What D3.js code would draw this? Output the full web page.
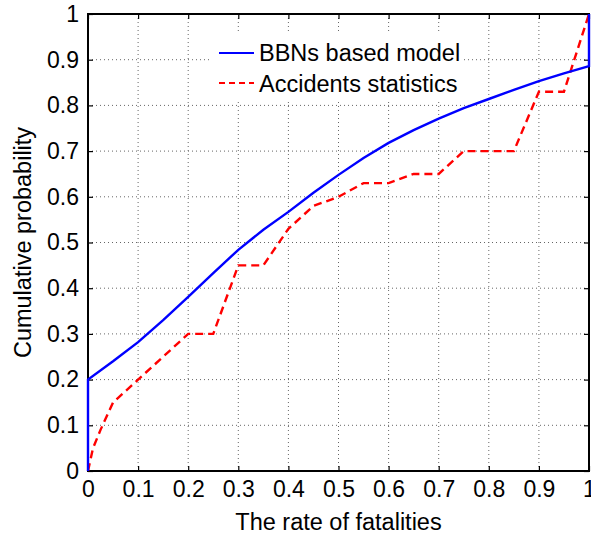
<!DOCTYPE html>
<html>
<head>
<meta charset="utf-8">
<script src="https://cdn.jsdelivr.net/npm/d3@7"></script>
<style>
  body { margin: 0; background: #fff; }
  text { font-family: "Liberation Sans", Arial, sans-serif; fill: #000; }
</style>
</head>
<body>
<script>
// ticks
var xTicks = [0, 0.1, 0.2, 0.3, 0.4, 0.5, 0.6, 0.7, 0.8, 0.9, 1];
var yTicks = [0, 0.1, 0.2, 0.3, 0.4, 0.5, 0.6, 0.7, 0.8, 0.9, 1];
var tickLabels = ["0", "0.1", "0.2", "0.3", "0.4", "0.5", "0.6", "0.7", "0.8", "0.9", "1"];

// BBNs based model (blue, solid)
var bbnX = [0, 0, 0.05, 0.1, 0.15, 0.2, 0.25, 0.3, 0.35, 0.4, 0.45, 0.5, 0.55, 0.6, 0.65, 0.7, 0.75, 0.8, 0.85, 0.9, 0.95, 1, 1];
var bbnY = [0, 0.2, 0.24, 0.282, 0.33, 0.381, 0.433, 0.484, 0.528, 0.567, 0.609, 0.648, 0.685, 0.718, 0.746, 0.771, 0.794, 0.814, 0.834, 0.853, 0.87, 0.886, 1];

// Accidents statistics (red, dashed)
var accX = [0, 0.01, 0.025, 0.05, 0.1, 0.2, 0.25, 0.3, 0.35, 0.4, 0.45, 0.5, 0.55, 0.6, 0.65, 0.7, 0.75, 0.85, 0.9, 0.95, 1];
var accY = [0, 0.05, 0.09, 0.15, 0.2, 0.3, 0.3, 0.45, 0.45, 0.53, 0.58, 0.6, 0.63, 0.63, 0.65, 0.65, 0.7, 0.7, 0.83, 0.83, 1];

var W = 591, H = 536;
var mLeft = 88, mRight = 589, mTop = 14, mBottom = 471;

var svg = d3.select("body").append("svg")
    .attr("width", W)
    .attr("height", H);

var x = d3.scaleLinear().domain([0, 1]).range([mLeft, mRight]);
var y = d3.scaleLinear().domain([0, 1]).range([mBottom, mTop]);

// grid
var grid = svg.append("g");
grid.selectAll(".gx").data(xTicks.slice(1, -1)).enter().append("line")
    .attr("x1", function(d) { return x(d); }).attr("x2", function(d) { return x(d); })
    .attr("y1", mTop).attr("y2", mBottom)
    .attr("stroke", "#666").attr("stroke-width", 1).attr("stroke-dasharray", "1,3");
grid.selectAll(".gy").data(yTicks.slice(1, -1)).enter().append("line")
    .attr("y1", function(d) { return y(d); }).attr("y2", function(d) { return y(d); })
    .attr("x1", mLeft).attr("x2", mRight)
    .attr("stroke", "#666").attr("stroke-width", 1).attr("stroke-dasharray", "1,3");

// axes with inward ticks
var fmt = function(d, i) { return tickLabels[i]; };
var xAxis = svg.append("g").attr("transform", "translate(0," + mBottom + ")")
    .call(d3.axisBottom(x).tickValues(xTicks).tickFormat(fmt).tickSizeInner(-5).tickSizeOuter(0).tickPadding(10));
var yAxis = svg.append("g").attr("transform", "translate(" + mLeft + ",0)")
    .call(d3.axisLeft(y).tickValues(yTicks).tickFormat(fmt).tickSizeInner(-5).tickSizeOuter(0).tickPadding(9));
svg.append("g").attr("transform", "translate(0," + mTop + ")")
    .call(d3.axisTop(x).tickValues(xTicks).tickFormat("").tickSizeInner(-5).tickSizeOuter(0));
svg.append("g").attr("transform", "translate(" + mRight + ",0)")
    .call(d3.axisRight(y).tickValues(yTicks).tickFormat("").tickSizeInner(-5).tickSizeOuter(0));

svg.selectAll(".domain").remove();
svg.selectAll(".tick line").attr("stroke", "#000").attr("stroke-width", 1.2);
xAxis.selectAll("text").style("font-size", "23px").attr("dy", "0.71em").attr("font-family", null);
yAxis.selectAll("text").style("font-size", "23px").attr("font-family", null);

// legend background
svg.append("rect")
    .attr("x", 212).attr("y", 34).attr("width", 251).attr("height", 66)
    .attr("fill", "#fff");

// box
svg.append("rect")
    .attr("x", mLeft).attr("y", mTop)
    .attr("width", mRight - mLeft).attr("height", mBottom - mTop)
    .attr("fill", "none").attr("stroke", "#000").attr("stroke-width", 2);

// lines
var line = d3.line()
    .x(function(d) { return x(d[0]); })
    .y(function(d) { return y(d[1]); });

svg.append("path")
    .datum(d3.zip(accX, accY))
    .attr("d", line)
    .attr("fill", "none")
    .attr("stroke", "#ff0000")
    .attr("stroke-width", 2.4)
    .attr("stroke-dasharray", "8,5");

svg.append("path")
    .datum(d3.zip(bbnX, bbnY))
    .attr("d", line)
    .attr("fill", "none")
    .attr("stroke", "#0000ff")
    .attr("stroke-width", 2.4);

// legend
var legend = svg.append("g");
legend.append("line").attr("x1", 219).attr("x2", 254).attr("y1", 53).attr("y2", 53)
    .attr("stroke", "#0000ff").attr("stroke-width", 2.2);
legend.append("line").attr("x1", 219).attr("x2", 254).attr("y1", 83).attr("y2", 83)
    .attr("stroke", "#ff0000").attr("stroke-width", 2.2).attr("stroke-dasharray", "6,4");
legend.append("text").attr("x", 259).attr("y", 61).style("font-size", "23.5px").text("BBNs based model");
legend.append("text").attr("x", 259).attr("y", 92).style("font-size", "23.5px").text("Accidents statistics");

// axis titles
svg.append("text")
    .attr("x", (mLeft + mRight) / 2).attr("y", 530)
    .attr("text-anchor", "middle").style("font-size", "23.5px")
    .text("The rate of fatalities");
svg.append("text")
    .attr("transform", "translate(31," + (mTop + mBottom) / 2 + ") rotate(-90)")
    .attr("text-anchor", "middle").style("font-size", "23.5px")
    .text("Cumulative probability");
</script>
</body>
</html>
